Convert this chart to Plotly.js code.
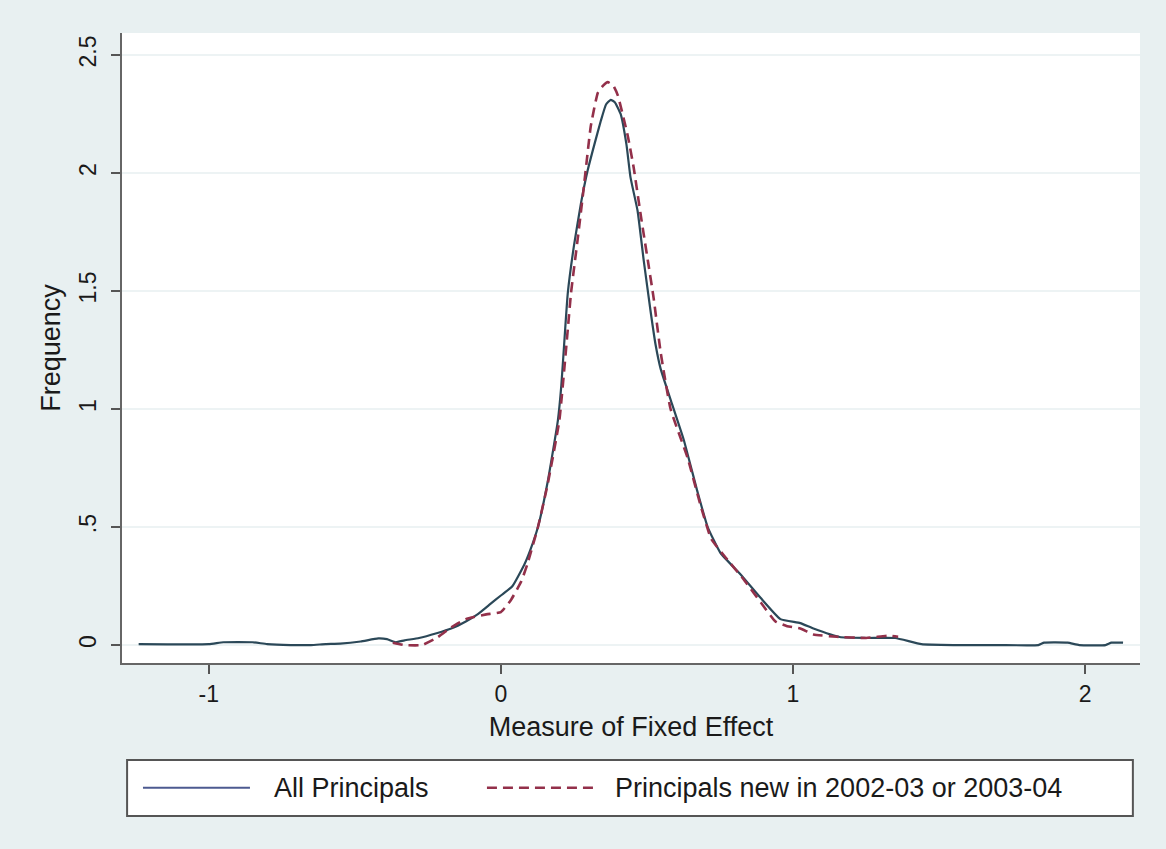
<!DOCTYPE html>
<html>
<head>
<meta charset="utf-8">
<script src="https://cdn.plot.ly/plotly-3.0.1.min.js"></script>
<style>
html,body{margin:0;padding:0;background:#e8f0f1;}
#chart{width:1166px;height:849px;}
</style>
</head>
<body>
<div id="chart"></div>
<script>
// ---- data ----
var seriesNames = ["All Principals", "Principals new in 2002-03 or 2003-04"];

var allX = [-1.24,-1.0,-0.95,-0.85,-0.8,-0.72,-0.65,-0.6,-0.55,-0.48,-0.42,-0.39,-0.36,-0.33,-0.28,-0.22,-0.17,-0.12,-0.08,-0.04,0.0,0.04,0.08,0.1,0.127,0.16,0.195,0.207,0.218,0.229,0.25,0.274,0.297,0.32,0.342,0.36,0.376,0.39,0.41,0.43,0.444,0.468,0.489,0.513,0.53,0.547,0.581,0.626,0.673,0.708,0.752,0.82,0.889,0.957,1.025,1.07,1.16,1.25,1.35,1.44,1.55,1.7,1.84,1.86,1.94,1.98,2.07,2.09,2.13];
var allY = [0.004,0.004,0.012,0.012,0.004,0.0,0.0,0.004,0.006,0.015,0.028,0.025,0.012,0.02,0.03,0.05,0.07,0.1,0.13,0.17,0.21,0.25,0.34,0.4,0.5,0.69,0.95,1.1,1.3,1.49,1.69,1.87,2.01,2.12,2.22,2.29,2.31,2.3,2.25,2.12,1.98,1.84,1.63,1.41,1.27,1.17,1.04,0.87,0.65,0.5,0.39,0.3,0.2,0.11,0.093,0.07,0.034,0.03,0.03,0.004,0.0,0.0,0.0,0.01,0.01,0.0,0.0,0.01,0.01];

var newX = [-0.37,-0.33,-0.27,-0.22,-0.17,-0.12,-0.05,0.0,0.034,0.07,0.09,0.127,0.16,0.2,0.23,0.24,0.263,0.284,0.308,0.332,0.35,0.366,0.385,0.4,0.434,0.455,0.479,0.503,0.523,0.547,0.581,0.64,0.684,0.72,0.77,0.83,0.89,0.94,0.98,1.025,1.07,1.15,1.25,1.33,1.36];
var newY = [0.01,0.0,0.0,0.03,0.075,0.11,0.13,0.14,0.19,0.27,0.34,0.5,0.68,0.95,1.35,1.49,1.72,1.94,2.2,2.34,2.37,2.385,2.37,2.33,2.16,2.02,1.82,1.63,1.47,1.24,1.0,0.79,0.59,0.45,0.37,0.28,0.18,0.1,0.08,0.07,0.045,0.035,0.03,0.04,0.035];

var yTickVals = [0, 0.5, 1, 1.5, 2, 2.5];
var yTickText = ["0", ".5", "1", "1.5", "2", "2.5"];
var xTickVals = [-1, 0, 1, 2];
var xTickText = ["-1", "0", "1", "2"];

// ---- styles ----
var FONT = "Liberation Sans, Arial, Helvetica, sans-serif";
var C_ALL = "#2b4858";
var C_ALL_LEG = "#4c5a90";
var C_NEW = "#93304a";

var traces = [
  {x: allX, y: allY, type: "scatter", mode: "lines", name: seriesNames[0],
   line: {color: C_ALL, width: 2.2, shape: "spline", smoothing: 0.4}, showlegend: false},
  {x: newX, y: newY, type: "scatter", mode: "lines", name: seriesNames[1],
   line: {color: C_NEW, width: 2.6, dash: "10px,6px", shape: "spline", smoothing: 0.4}, showlegend: false}
];

// legend drawn in paper coordinates (box spans almost full width, as in the reference)
var legY = -0.198;
var shapes = [
  {type: "rect", xref: "paper", yref: "paper", x0: 0.005, x1: 0.993, y0: -0.243, y1: -0.154,
   line: {color: "#555555", width: 2}, fillcolor: "#ffffff", layer: "below"},
  {type: "line", xref: "paper", yref: "paper", x0: 0.0206, x1: 0.1257, y0: legY, y1: legY,
   line: {color: C_ALL_LEG, width: 2.2}},
  {type: "line", xref: "paper", yref: "paper", x0: 0.3585, x1: 0.4676, y0: legY, y1: legY,
   line: {color: C_NEW, width: 2.6, dash: "10px,6px"}}
];
var annotations = [
  {xref: "paper", yref: "paper", x: 0.147, y: legY, xanchor: "left", yanchor: "middle",
   text: seriesNames[0], showarrow: false, font: {family: FONT, size: 27, color: "#1a1a1a"}},
  {xref: "paper", yref: "paper", x: 0.4823, y: legY, xanchor: "left", yanchor: "middle",
   text: seriesNames[1], showarrow: false, font: {family: FONT, size: 27, color: "#1a1a1a"}}
];

var layout = {
  width: 1166, height: 849,
  paper_bgcolor: "#e8f0f1",
  plot_bgcolor: "#ffffff",
  margin: {l: 122, r: 26, t: 33, b: 186, pad: 0},
  font: {family: FONT, color: "#1a1a1a"},
  xaxis: {
    range: [-1.297, 2.188],
    tickvals: xTickVals, ticktext: xTickText,
    ticks: "outside", ticklen: 9, tickwidth: 2, tickcolor: "#555555",
    showline: true, linecolor: "#666666", linewidth: 2,
    showgrid: false, zeroline: false,
    tickfont: {family: FONT, size: 23, color: "#1a1a1a"},
    title: {text: "Measure of Fixed Effect", font: {family: FONT, size: 27, color: "#1a1a1a"}, standoff: 12}
  },
  yaxis: {
    range: [-0.076, 2.593],
    tickvals: yTickVals, ticktext: yTickText,
    tickangle: -90,
    ticks: "outside", ticklen: 9, tickwidth: 2, tickcolor: "#555555",
    ticklabelstandoff: 6,
    showline: true, linecolor: "#666666", linewidth: 2,
    showgrid: true, gridcolor: "#edf3f4", gridwidth: 2,
    zeroline: false,
    tickfont: {family: FONT, size: 23, color: "#1a1a1a"},
    title: {text: "Frequency", font: {family: FONT, size: 27, color: "#1a1a1a"}, standoff: 6}
  },
  shapes: shapes,
  annotations: annotations,
  showlegend: false
};

Plotly.newPlot("chart", traces, layout, {displayModeBar: false, staticPlot: true});
</script>
</body>
</html>
